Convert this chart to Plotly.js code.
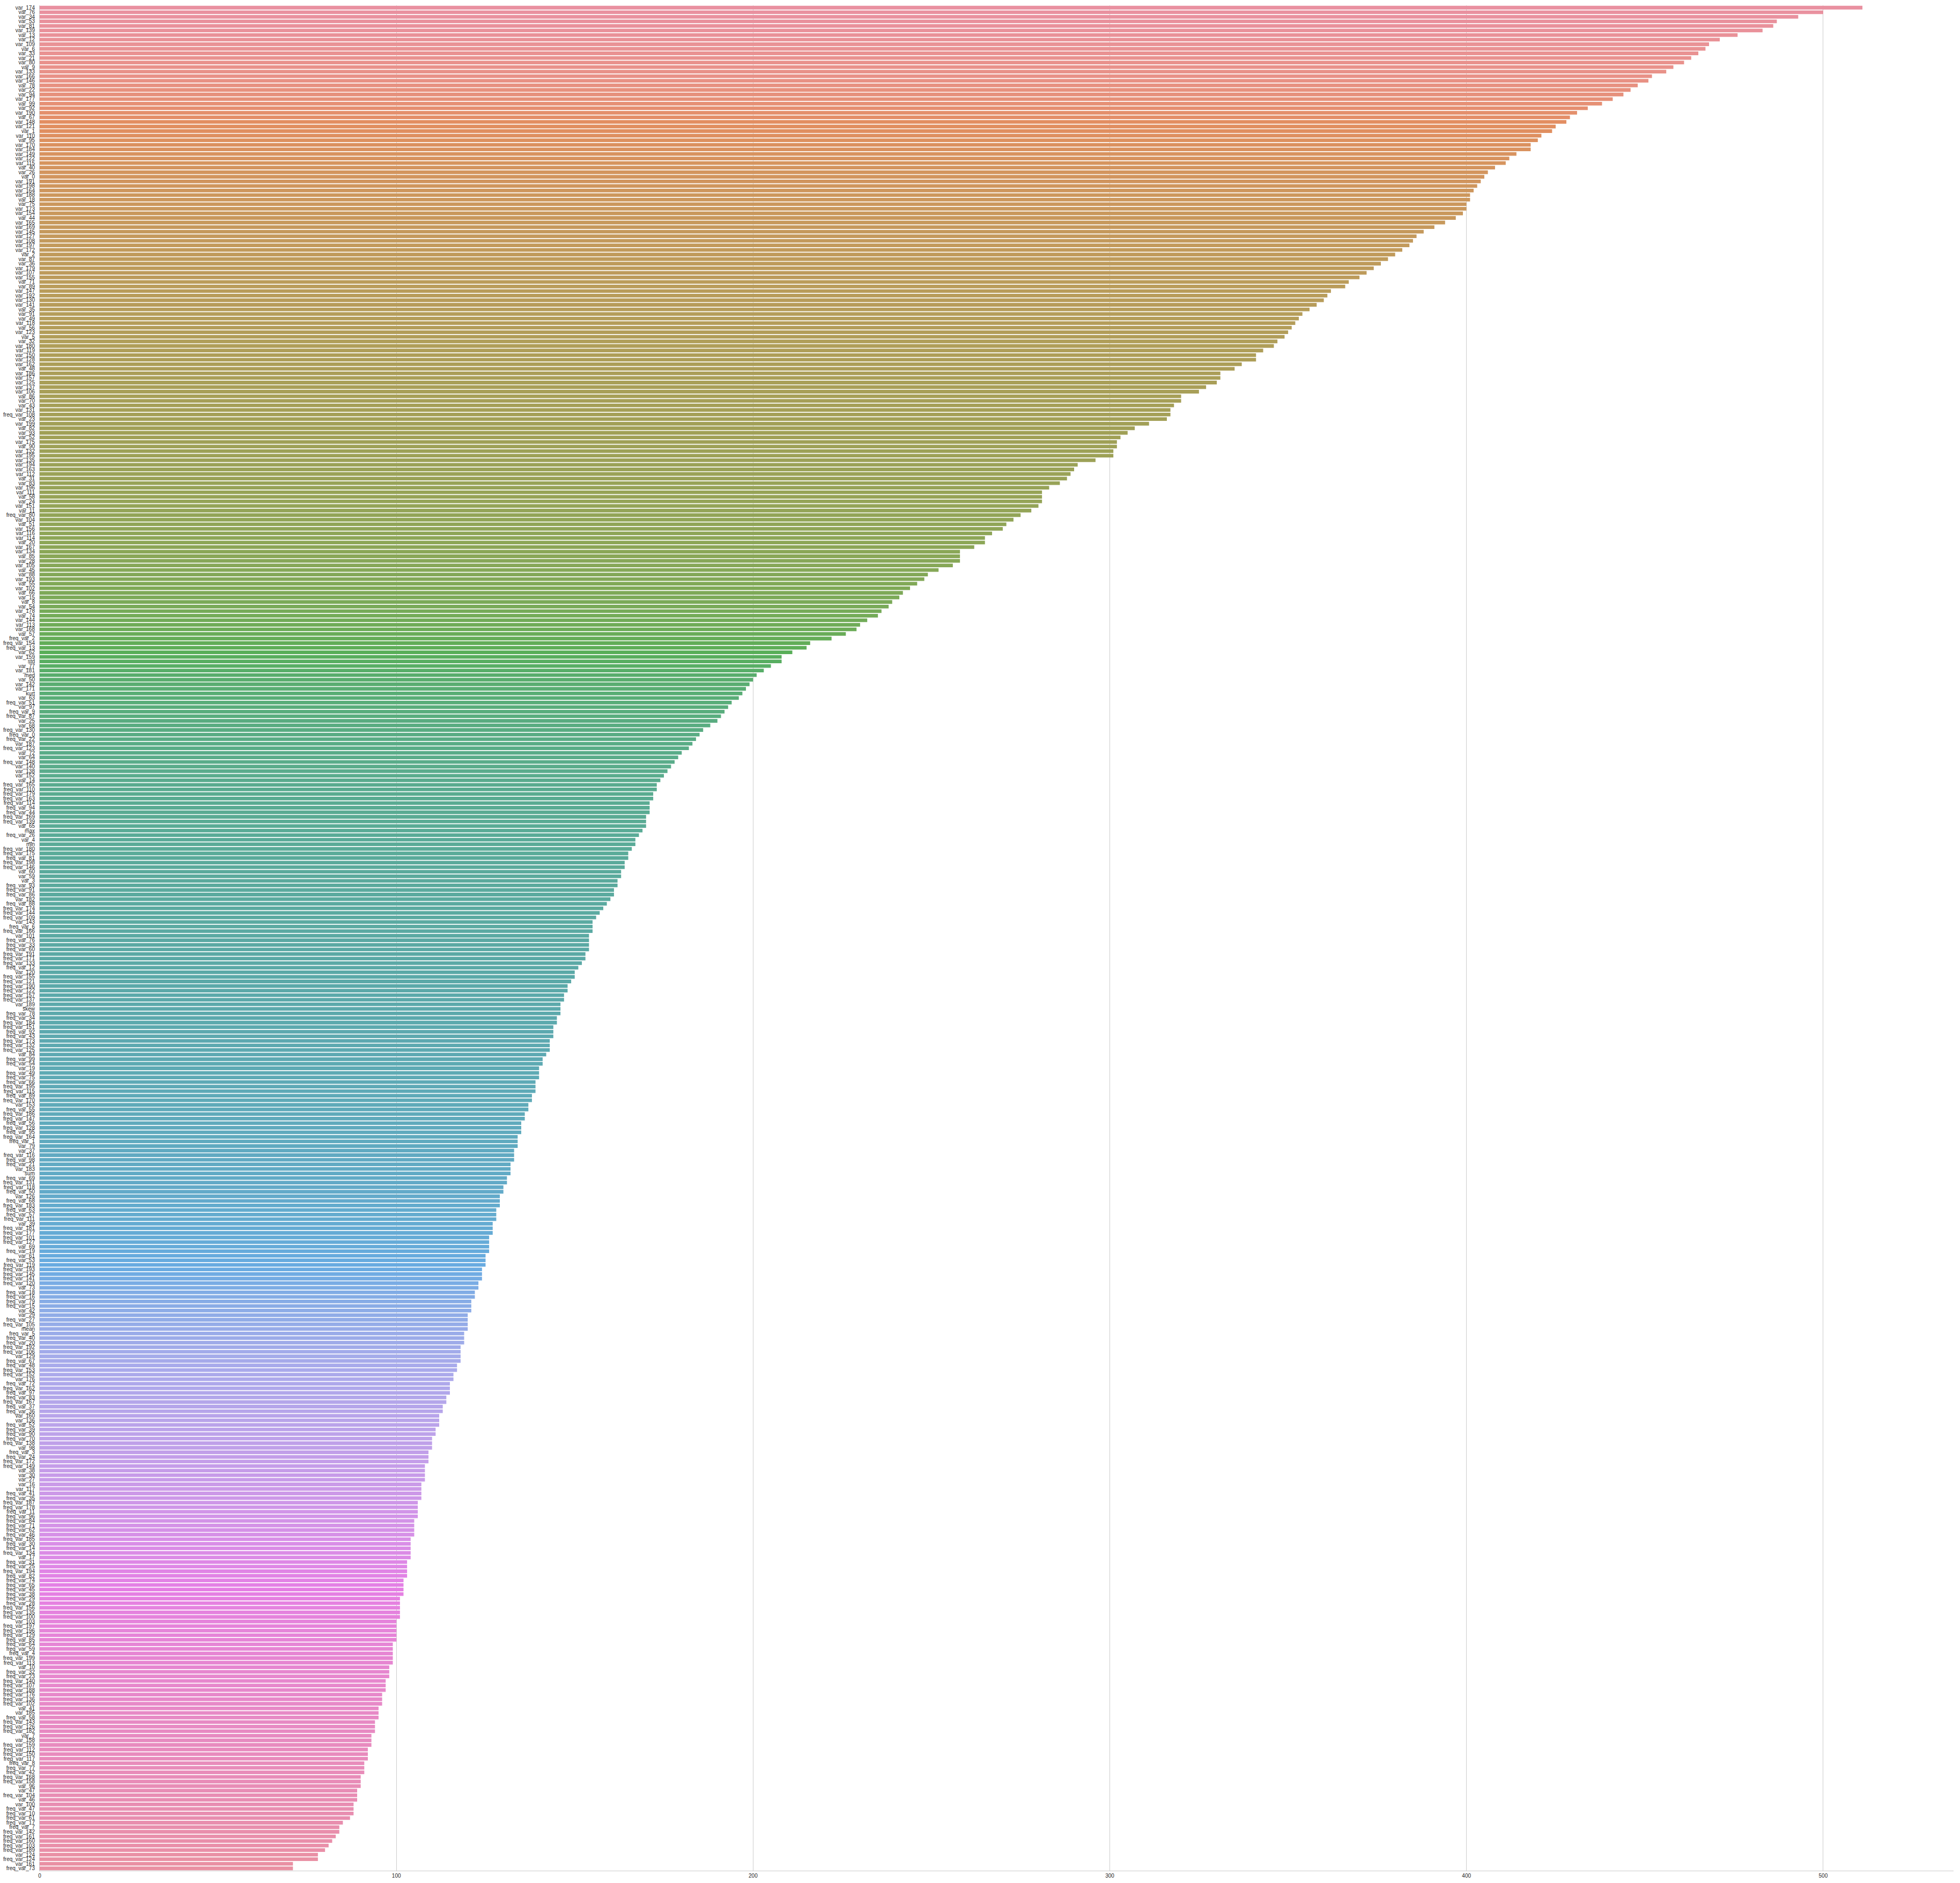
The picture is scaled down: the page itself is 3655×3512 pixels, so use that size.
<!DOCTYPE html>
<html>
<head>
<meta charset="utf-8">
<script src="https://cdn.plot.ly/plotly-3.0.1.min.js"></script>
<style>
html,body{margin:0;padding:0;background:#fff;}
#chart{width:3655px;height:3512px;}
</style>
</head>
<body>
<div id="chart"></div>
<script>
const features = [
"var_174","var_76","var_34","var_53","var_81","var_139","var_13","var_12","var_109","var_6","var_33","var_21","var_80","var_9","var_133","var_166","var_146","var_78","var_22","var_94","var_177","var_99","var_92","var_190","var_67","var_148","var_121","var_1","var_110","var_95","var_170","var_184","var_149","var_122","var_115","var_40","var_26",
"var_0","var_191","var_198","var_164","var_188","var_18","var_75","var_173","var_154","var_44","var_165","var_169","var_145","var_127","var_108","var_197","var_172","var_2","var_87","var_36","var_179","var_107","var_155","var_71","var_89","var_147","var_192","var_130","var_141","var_35","var_91","var_49","var_118","var_56","var_123","var_5","var_32",
"var_180","var_119","var_150","var_128","var_162","var_48","var_186","var_157","var_125","var_137","var_106","var_86","var_70","var_43","var_131","freq_var_108","var_23","var_199","var_82","var_93","var_52","var_175","var_90","var_132","var_195","var_135","var_194","var_163","var_112","var_31","var_83","var_196","var_111","var_58","var_24","var_151","var_11","freq_var_80",
"var_104","var_51","var_156","var_116","var_114","var_20","var_167","var_134","var_85","var_28","var_105","var_45","var_88","var_193","var_55","var_102","var_66","var_15","var_8","var_54","var_178","var_74","var_144","var_113","var_168","var_57","freq_var_2","freq_var_154","freq_var_13","var_62","var_159","std","var_77","var_181","med","var_50","var_142",
"var_171","kurt","var_63","freq_var_51","var_97","freq_var_9","freq_var_87","var_25","var_68","freq_var_130","freq_var_0","freq_var_22","var_187","freq_var_123","var_72","var_64","freq_var_148","var_140","var_138","var_152","var_14","freq_var_165","freq_var_110","freq_var_179","freq_var_163","freq_var_114","freq_var_94","freq_var_44","freq_var_169","freq_var_139","var_65","max","freq_var_26","var_4","min","freq_var_180","freq_var_175","freq_var_81",
"freq_var_198","freq_var_146","var_60","var_59","var_3","freq_var_93","freq_var_91","freq_var_86","var_182","freq_var_88","freq_var_174","freq_var_144","freq_var_109","var_143","freq_var_6","freq_var_166","var_101","freq_var_76","freq_var_33","freq_var_60","freq_var_191","freq_var_171","freq_var_133","freq_var_12","var_120","freq_var_155","freq_var_121","freq_var_190","freq_var_122","freq_var_157","freq_var_137","var_189","skew","freq_var_78","freq_var_34","freq_var_184","freq_var_151",
"freq_var_92","freq_var_43","freq_var_173","freq_var_132","freq_var_125","var_84","freq_var_99","freq_var_54","var_19","freq_var_49","freq_var_75","freq_var_66","freq_var_195","freq_var_115","freq_var_89","freq_var_170","var_153","freq_var_55","freq_var_186","freq_var_147","freq_var_56","freq_var_128","freq_var_95","freq_var_164","freq_var_1","var_79","var_37","freq_var_116","freq_var_98","freq_var_21","var_183","sum","freq_var_69","freq_var_131","freq_var_118","freq_var_50","var_126","freq_var_68",
"freq_var_183","freq_var_63","freq_var_57","freq_var_111","var_39","freq_var_181","freq_var_177","freq_var_101","freq_var_127","var_69","freq_var_19","var_61","freq_var_53","freq_var_119","freq_var_193","freq_var_145","freq_var_141","freq_var_120","var_73","freq_var_18","freq_var_16","freq_var_79","freq_var_15","var_42","var_29","freq_var_27","freq_var_105","mean","freq_var_5","freq_var_40","freq_var_20","freq_var_192","freq_var_106","var_129","freq_var_67","freq_var_48","freq_var_153",
"freq_var_152","var_176","freq_var_72","freq_var_162","freq_var_97","freq_var_83","freq_var_167","freq_var_37","freq_var_36","var_160","var_136","freq_var_52","freq_var_39","freq_var_90","freq_var_70","freq_var_138","var_98","freq_var_3","freq_var_24","freq_var_172","freq_var_149","var_38","var_30","var_27","var_16","var_117","freq_var_41","freq_var_35","freq_var_187","freq_var_178","freq_var_11","freq_var_96","freq_var_84","freq_var_71","freq_var_62","freq_var_46","freq_var_185","freq_var_30",
"freq_var_14","freq_var_134","var_17","freq_var_31","freq_var_25","freq_var_194","freq_var_82","freq_var_74","freq_var_65","freq_var_45","freq_var_38","freq_var_29","freq_var_28","freq_var_156","freq_var_135","freq_var_100","var_103","freq_var_197","freq_var_196","freq_var_129","freq_var_85","freq_var_64","freq_var_59","freq_var_4","freq_var_199","freq_var_113","var_10","freq_var_32","freq_var_23","freq_var_140","freq_var_107","freq_var_188","freq_var_176","freq_var_136","freq_var_102","var_41","var_185",
"freq_var_58","freq_var_143","freq_var_126","freq_var_182","var_7","var_158","freq_var_159","freq_var_112","freq_var_150","freq_var_117","freq_var_8","freq_var_77","freq_var_42","freq_var_168","freq_var_158","var_96","var_47","freq_var_104","var_46","var_100","freq_var_47","freq_var_10","freq_var_61","freq_var_17","freq_var_7","freq_var_142","freq_var_161","freq_var_160","freq_var_103","freq_var_189","var_124","freq_var_124","var_161","freq_var_73"
];

const importance = [
511,500,493,487,486,483,476,471,468,467,
465,463,461,458,456,452,451,448,446,444,
441,438,434,431,429,428,425,424,421,420,
418,418,414,412,411,408,406,405,404,403,
402,401,401,400,400,399,397,394,391,388,
386,385,384,382,380,378,376,374,372,370,
367,366,362,361,360,358,356,354,353,352,
351,350,349,347,346,343,341,341,337,335,
331,331,330,327,325,320,320,318,317,317,
316,311,307,305,303,302,302,301,301,296,
291,290,289,288,286,283,281,281,281,280,
278,275,273,271,270,267,265,265,262,258,
258,258,256,252,249,248,246,244,242,241,
239,238,236,235,232,230,229,226,222,216,
215,211,208,208,205,203,201,200,199,198,
197,196,194,193,192,191,190,188,186,185,
184,183,182,180,179,178,177,176,175,174,
173,173,172,172,171,171,171,170,170,170,
169,168,167,167,166,165,165,164,164,163,
163,162,162,161,161,160,159,158,157,156,
155,155,155,154,154,154,154,153,153,152,
151,150,150,149,148,148,147,147,146,146,
146,145,145,144,144,144,143,143,143,142,
141,141,140,140,140,139,139,139,138,138,
137,137,136,136,135,135,135,134,134,134,
133,133,133,132,132,132,131,131,130,130,
129,129,129,128,128,128,127,127,127,126,
126,126,126,125,125,125,124,124,124,123,
123,122,122,121,121,121,120,120,120,120,
119,119,119,118,118,118,118,117,117,116,
116,115,115,115,114,114,113,113,112,112,
112,111,111,110,110,110,109,109,109,108,
108,108,108,107,107,107,107,106,106,106,
106,105,105,105,105,104,104,104,104,104,
103,103,103,103,102,102,102,102,101,101,
101,101,101,100,100,100,100,100,99,99,
99,99,99,98,98,98,97,97,97,96,
96,96,95,95,
95,94,94,94,93,93,93,92,92,92,91,91,91,90,90,90,89,89,89,88,88,
88,87,85,84,84,83,82,81,80,78,78,71,71
];

// seaborn husl palette (h=.01, s=.9, l=.65) + barplot desaturation .75
const M = [[3.2406,-1.5372,-0.4986],[-0.9689,1.8758,0.0415],[0.0557,-0.2040,1.0570]];
const refX=0.95047, refY=1.0, refZ=1.08883, refU=0.19784, refV=0.46834, labE=0.008856, labK=903.3;
function maxChroma(L,H){
  const hr=H*Math.PI/180, sinH=Math.sin(hr), cosH=Math.cos(hr);
  const sub1=Math.pow(L+16,3)/1560896;
  const sub2=sub1>labE?sub1:L/labK;
  let res=Infinity;
  for(const row of M){
    const [m1,m2,m3]=row;
    const top=(0.99915*m1+1.05122*m2+1.14460*m3)*sub2;
    const rb=0.86330*m3-0.17266*m2;
    const lb=0.12949*m3-0.38848*m1;
    const bottom=(rb*sinH+lb*cosH)*sub2;
    for(const t of [0,1]){
      const C=L*(top-1.05122*t)/(bottom+0.17266*sinH*t);
      if(C>0&&C<res)res=C;
    }
  }
  return res;
}
function fInv(t){return Math.pow(t,3)>labE?Math.pow(t,3):(116*t-16)/labK;}
function fromLinear(c){return c<=0.0031308?12.92*c:1.055*Math.pow(c,1/2.4)-0.055;}
function huslToRgb(H,S,L){
  const C=maxChroma(L,H)/100*S;
  const hr=H*Math.PI/180;
  const U=C*Math.cos(hr), V=C*Math.sin(hr);
  const vY=fInv((L+16)/116);
  const vU=U/(13*L)+refU, vV=V/(13*L)+refV;
  const Y=vY*refY;
  const X=0-(9*Y*vU)/((vU-4)*vV-vU*vV);
  const Z=(9*Y-15*vV*Y-vV*X)/(3*vV);
  return M.map(r=>Math.min(1,Math.max(0,fromLinear(r[0]*X+r[1]*Y+r[2]*Z))));
}
function rgbToHls(r,g,b){
  const mx=Math.max(r,g,b), mn=Math.min(r,g,b), l=(mx+mn)/2;
  if(mx===mn)return [0,l,0];
  const s=l<=0.5?(mx-mn)/(mx+mn):(mx-mn)/(2-mx-mn);
  const rc=(mx-r)/(mx-mn), gc=(mx-g)/(mx-mn), bc=(mx-b)/(mx-mn);
  let h;
  if(r===mx)h=bc-gc; else if(g===mx)h=2+rc-bc; else h=4+gc-rc;
  h=((h/6)%1+1)%1;
  return [h,l,s];
}
function hv(m1,m2,h){h=((h%1)+1)%1;if(h<1/6)return m1+(m2-m1)*h*6;if(h<0.5)return m2;if(h<2/3)return m1+(m2-m1)*(2/3-h)*6;return m1;}
function hlsToRgb(h,l,s){
  if(s===0)return [l,l,l];
  const m2=l<=0.5?l*(1+s):l+s-l*s, m1=2*l-m2;
  return [hv(m1,m2,h+1/3),hv(m1,m2,h),hv(m1,m2,h-1/3)];
}
const n=features.length;
const colors=[];
const tint=0.88; // slight lightening toward white, matching the softer reference tones
for(let i=0;i<n;i++){
  let h=((i/n)+0.01)%1*359;
  const rgb=huslToRgb(h,0.9*99,0.65*99);
  const [hh,ll,ss]=rgbToHls(...rgb);
  const d=hlsToRgb(hh,ll,ss*0.75);
  colors.push('rgb('+d.map(v=>Math.round((v*tint+(1-tint))*255)).join(',')+')');
}

const trace={
  type:'bar', orientation:'h',
  x:importance, y:features,
  marker:{color:colors, line:{width:0}},
  hoverinfo:'x+y'
};
const maxVal=Math.max(...importance);
const layout={
  width:3655, height:3512,
  margin:{l:74, r:12, t:10, b:23, pad:0},
  paper_bgcolor:'#ffffff', plot_bgcolor:'#ffffff',
  bargap:0.2,
  showlegend:false,
  font:{family:'"Liberation Sans", Arial, sans-serif', size:10, color:'#262626'},
  xaxis:{
    range:[0, maxVal*1.05], dtick:100, tick0:0,
    showgrid:true, gridcolor:'#cccccc', gridwidth:1,
    zeroline:false, showline:true, linecolor:'#cccccc', linewidth:1,
    ticks:'', tickfont:{size:10, color:'#262626'}, automargin:false
  },
  yaxis:{
    type:'category', range:[n-0.5,-0.5],
    tickmode:'array', tickvals:features, ticktext:features,
    showgrid:false, zeroline:false, showline:true, linecolor:'#cccccc', linewidth:1,
    ticks:'', ticklabelstandoff:6, tickfont:{size:10, color:'#262626'}, automargin:false
  }
};
Plotly.newPlot('chart',[trace],layout,{displayModeBar:false, staticPlot:true});
</script>
</body>
</html>
